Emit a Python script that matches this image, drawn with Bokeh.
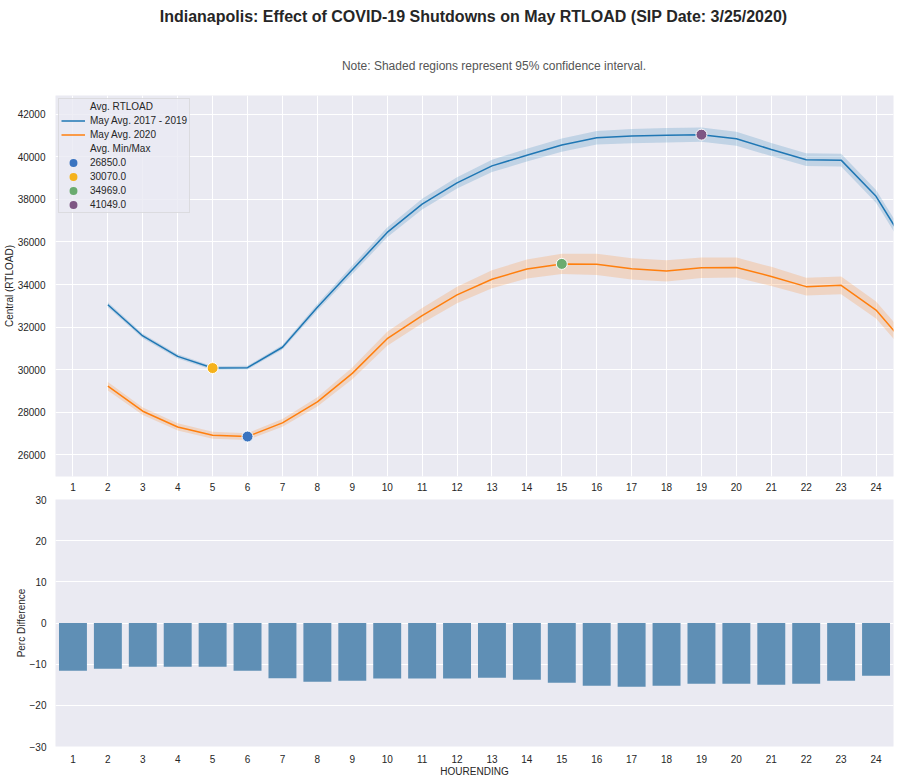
from bokeh.plotting import figure
from bokeh.models import (Range1d, FixedTicker, Legend, LegendItem, ColumnDataSource)
from bokeh.layouts import column
from bokeh.embed import file_html
from bokeh.resources import INLINE
from bokeh.core.properties import value

# ---------------- data ----------------
TITLE = "Indianapolis: Effect of COVID-19 Shutdowns on May RTLOAD (SIP Date: 3/25/2020)"
SUBTITLE = "Note: Shaded regions represent 95% confidence interval."

hours = list(range(1, 25))
hour_labels = [str(h) for h in hours]

avg_2017_2019 = [33050, 31580, 30620, 30070, 30090, 31050, 32930, 34690, 36450, 37780,
                 38780, 39580, 40080, 40560, 40900, 40980, 41020, 41049, 40860, 40350,
                 39870, 39850, 38150, 35500]
ci_2017_2019 = [120, 110, 100, 90, 90, 110, 150, 200, 230, 250, 270, 290, 300, 310, 320,
                330, 340, 340, 330, 310, 300, 300, 300, 320]

avg_2020 = [29220, 28040, 27300, 26910, 26850, 27490, 28480, 29820, 31450, 32540,
            33510, 34250, 34730, 34969, 34950, 34740, 34640, 34790, 34800, 34380,
            33900, 33960, 32800, 30900]
ci_2020 = [200, 180, 170, 160, 160, 180, 220, 280, 330, 360, 390, 420, 450, 480, 500,
           500, 500, 480, 470, 450, 420, 420, 400, 400]

minmax_values = [26850, 30070, 34969, 41049]
minmax_hours = [5, 4, 14, 18]
minmax_colors = ["#3a74c0", "#f5b21c", "#6aab6f", "#7e5684"]

perc_diff = [-11.6, -11.1, -10.6, -10.6, -10.6, -11.6, -13.4, -14.3, -14.0, -13.5,
             -13.5, -13.5, -13.3, -13.8, -14.5, -15.25, -15.5, -15.25, -14.75, -14.75,
             -15.0, -14.75, -14.0, -12.8]

y_ticks_top = [26000, 28000, 30000, 32000, 34000, 36000, 38000, 40000, 42000]
y_ticks_bottom = [-30, -20, -10, 0, 10, 20, 30]

# ---------------- style ----------------
FONT = "Liberation Sans"
BG = "#eaeaf2"
TXT = "#262626"
BLUE = "#1f77b4"
ORANGE = "#ff7f0e"
BAR = "#5f8fb5"
W = 902
NAN = float("nan")

positions = [h - 1 for h in hours]          # categorical slot positions 0..23
overrides = {p: lab for p, lab in zip(positions, hour_labels)}


def style_axes(p):
    for ax in (p.xaxis[0], p.yaxis[0]):
        ax.axis_line_color = None
        ax.major_tick_line_color = None
        ax.minor_tick_line_color = None
        ax.major_label_text_font = FONT
        ax.major_label_text_font_size = "10px"
        ax.major_label_text_color = TXT
        ax.axis_label_text_font = FONT
        ax.axis_label_text_font_size = "10px"
        ax.axis_label_text_font_style = "normal"
        ax.axis_label_text_color = TXT
    p.grid.grid_line_color = "white"
    p.grid.grid_line_width = 1


# ---------------- header ----------------
HH = 95
hdr = figure(width=W, height=HH, x_range=Range1d(0, W), y_range=Range1d(0, HH),
             output_backend="svg", toolbar_location=None,
             min_border_left=0, min_border_right=0, min_border_top=0, min_border_bottom=0,
             outline_line_color=None, background_fill_color="white")
hdr.axis.visible = False
hdr.grid.visible = False
hdr.text(x=[450], y=[HH - 16], text=[TITLE], text_font=value(FONT), text_font_size="16px",
         text_font_style="bold", text_align="center", text_baseline="middle", text_color=TXT)
hdr.text(x=[472], y=[HH - 65], text=[SUBTITLE], text_font=value(FONT), text_font_size="12px",
         text_align="center", text_baseline="middle", text_color="#555555")

# ---------------- top line chart ----------------
top = figure(width=W, height=398, x_range=Range1d(-0.5, 23.5), y_range=Range1d(24970, 42890),
             output_backend="svg", toolbar_location=None,
             min_border_left=55, min_border_right=9, min_border_top=0, min_border_bottom=16,
             background_fill_color=BG, border_fill_color="white", outline_line_color=None)
style_axes(top)
top.xaxis.ticker = FixedTicker(ticks=positions)
top.xaxis.major_label_overrides = overrides
top.xaxis.major_label_standoff = 0
top.yaxis.ticker = FixedTicker(ticks=y_ticks_top)
top.yaxis.axis_label = "Central (RTLOAD)"
top.yaxis.major_label_standoff = 4
top.yaxis.axis_label_standoff = 0

lo1 = [v - c for v, c in zip(avg_2017_2019, ci_2017_2019)]
hi1 = [v + c for v, c in zip(avg_2017_2019, ci_2017_2019)]
lo2 = [v - c for v, c in zip(avg_2020, ci_2020)]
hi2 = [v + c for v, c in zip(avg_2020, ci_2020)]

top.varea(x=hours, y1=lo1, y2=hi1, fill_color=BLUE, fill_alpha=0.2)
top.varea(x=hours, y1=lo2, y2=hi2, fill_color=ORANGE, fill_alpha=0.2)
r_blue = top.line(hours, avg_2017_2019, line_color=BLUE, line_width=1.5)
r_orange = top.line(hours, avg_2020, line_color=ORANGE, line_width=1.5)

mm_src = ColumnDataSource(dict(x=minmax_hours, y=minmax_values, c=minmax_colors))
top.scatter("x", "y", source=mm_src, size=11, fill_color="c",
            line_color="white", line_width=1)

r_dummy = top.scatter(x=[NAN], y=[NAN], fill_alpha=0, line_alpha=0)

items = [LegendItem(label="Avg. RTLOAD", renderers=[r_dummy]),
         LegendItem(label="May Avg. 2017 - 2019", renderers=[r_blue]),
         LegendItem(label="May Avg. 2020", renderers=[r_orange]),
         LegendItem(label="Avg. Min/Max", renderers=[r_dummy])]
for v, c in zip(minmax_values, minmax_colors):
    # legend swatch only (no visible point)
    r_leg = top.scatter(x=[NAN], y=[NAN], fill_color=c, line_color=c, line_width=3.5)
    items.append(LegendItem(label=f"{v:.1f}", renderers=[r_leg]))

leg = Legend(items=items, location="top_left", margin=3, padding=2, spacing=3,
             glyph_width=24, glyph_height=11, label_height=11, label_standoff=5,
             label_text_font=FONT, label_text_font_size="10px", label_text_color=TXT,
             border_line_color="#cccccc", background_fill_color=BG,
             background_fill_alpha=0.8)
top.add_layout(leg)

# ---------------- bottom bar chart ----------------
bot = figure(width=W, height=287, x_range=Range1d(-0.5, 23.5), y_range=Range1d(-30, 30),
             output_backend="svg", toolbar_location=None,
             min_border_left=55, min_border_right=9, min_border_top=6, min_border_bottom=34,
             background_fill_color=BG, border_fill_color="white", outline_line_color=None)
style_axes(bot)
bot.xgrid.visible = False
bot.xaxis.ticker = FixedTicker(ticks=positions)
bot.xaxis.major_label_overrides = overrides
bot.xaxis.major_label_standoff = 2
bot.xaxis.axis_label = "HOURENDING"
bot.xaxis.axis_label_standoff = 0
bot.yaxis.ticker = FixedTicker(ticks=y_ticks_bottom)
bot.yaxis.axis_label = "Perc Difference"
bot.yaxis.major_label_standoff = 3
bot.yaxis.axis_label_standoff = 0

bot.vbar(x=positions, top=perc_diff, bottom=0, width=0.8, fill_color=BAR, line_color=None)

layout = column(hdr, top, bot, spacing=0)
open("out.html", "w").write(file_html(layout, INLINE))
